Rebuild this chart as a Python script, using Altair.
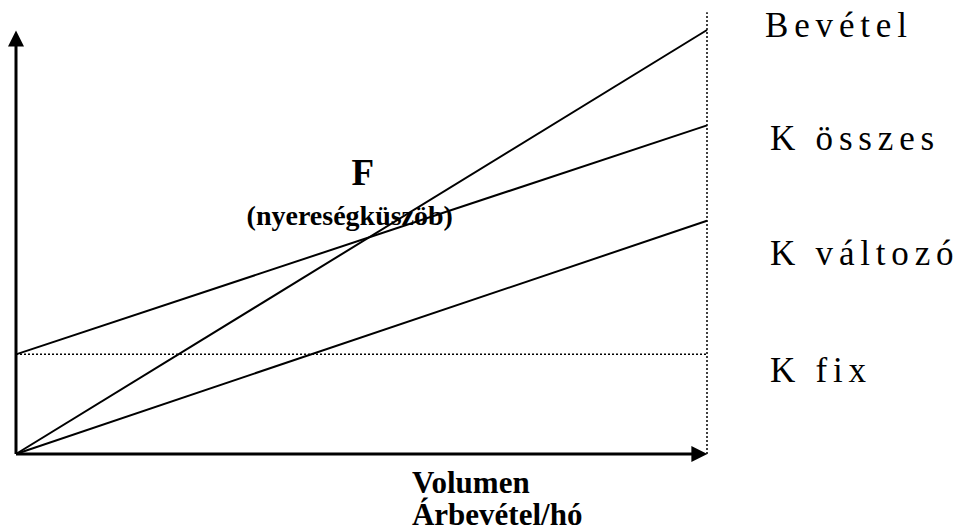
import altair as alt
import pandas as pd

# ---- data (chart units: volume 0..100, value 0..100) ----
volume = [0, 100]
bevetel = [0, 100]
k_osszes = [23.5, 77.5]
k_valtozo = [0, 55]
k_fix = [23.5, 23.5]

series = ["Bevétel", "K összes", "K változó"]
values = [bevetel, k_osszes, k_valtozo]

right_labels = ["Bevétel", "K összes", "K változó", "K fix"]
right_label_x = [108.4, 109.1, 109.1, 109.1]
right_label_y = [98.3, 71.7, 44.6, 17.0]

be_labels = ["F", "(nyereségküszöb)"]
be_label_x = [50.2, 48.3]
be_label_y = [63.4, 54.0]

axis_labels = ["Volumen", "Árbevétel/hó"]
axis_label_x = [57.3, 57.3]
axis_label_y = [-9.2, -16.7]

SP = "\u2006"


def spaced(t):
    return SP.join(list(t))


lines_df = pd.DataFrame(
    [
        {"volume": v, "value": val[i], "series": s}
        for s, val in zip(series, values)
        for i, v in enumerate(volume)
    ]
)
fix_df = pd.DataFrame({"volume": volume, "value": k_fix})

xs = alt.Scale(domain=[0, 100], range=[8, 699])
ys = alt.Scale(domain=[0, 100], range=[446, 22])
X = lambda f: alt.X(f, type="quantitative", scale=xs, axis=None)
Y = lambda f: alt.Y(f, type="quantitative", scale=ys, axis=None)

lines = alt.Chart(lines_df).mark_line(color="black", strokeWidth=2).encode(
    x=X("volume"), y=Y("value"), detail="series:N"
)

fix_line = alt.Chart(fix_df).mark_line(
    color="black", strokeWidth=1.5, strokeDash=[2, 2]
).encode(x=X("volume"), y=Y("value"))

vline_df = pd.DataFrame({"x": [100], "y": [0], "y2": [104.2]})
vline = alt.Chart(vline_df).mark_rule(
    color="black", strokeWidth=1.5, strokeDash=[2, 2]
).encode(x=X("x"), y=Y("y"), y2="y2")

yaxis_df = pd.DataFrame({"x": [0], "y": [0], "y2": [97]})
yaxis = alt.Chart(yaxis_df).mark_rule(color="black", strokeWidth=3).encode(
    x=X("x"), y=Y("y"), y2="y2"
)
xaxis_df = pd.DataFrame({"x": [0], "x2": [98], "y": [0]})
xaxis = alt.Chart(xaxis_df).mark_rule(color="black", strokeWidth=3).encode(
    x=X("x"), x2="x2", y=Y("y")
)

up_df = pd.DataFrame({"x": [0], "y": [98]})
up_arrow = alt.Chart(up_df).mark_point(
    shape="M0,-1L1,1L-1,1Z", filled=True, color="black", size=256, opacity=1, strokeWidth=0
).encode(x=X("x"), y=Y("y"))
right_df = pd.DataFrame({"x": [98.9], "y": [0]})
right_arrow = alt.Chart(right_df).mark_point(
    shape="M1,0L-1,-1L-1,1Z", filled=True, color="black", size=256, opacity=1, strokeWidth=0
).encode(x=X("x"), y=Y("y"))

rl_df = pd.DataFrame(
    {"x": right_label_x, "y": right_label_y, "t": [spaced(t) for t in right_labels]}
)
rl = alt.Chart(rl_df).mark_text(
    font="Liberation Serif", fontSize=35, align="left", baseline="alphabetic", color="black"
).encode(x=X("x"), y=Y("y"), text="t:N")

f_df = pd.DataFrame({"x": be_label_x[:1], "y": be_label_y[:1], "t": be_labels[:1]})
f_txt = alt.Chart(f_df).mark_text(
    font="Liberation Serif", fontSize=37, fontWeight="bold", align="center",
    baseline="alphabetic", color="black"
).encode(x=X("x"), y=Y("y"), text="t:N")

n_df = pd.DataFrame({"x": be_label_x[1:], "y": be_label_y[1:], "t": be_labels[1:]})
n_txt = alt.Chart(n_df).mark_text(
    font="Liberation Serif", fontSize=28, fontWeight="bold", align="center",
    baseline="alphabetic", color="black"
).encode(x=X("x"), y=Y("y"), text="t:N")

a_df = pd.DataFrame({"x": axis_label_x, "y": axis_label_y, "t": axis_labels})
a_txt = alt.Chart(a_df).mark_text(
    font="Liberation Serif", fontSize=31, fontWeight="bold", align="left",
    baseline="alphabetic", color="black"
).encode(x=X("x"), y=Y("y"), text="t:N")

chart = (
    alt.layer(fix_line, vline, lines, yaxis, xaxis, up_arrow, right_arrow, rl, f_txt, n_txt, a_txt)
    .properties(
        width=947,
        height=522,
        autosize=alt.AutoSizeParams(type="none"),
        padding=0,
        view=alt.ViewBackground(strokeWidth=0, strokeOpacity=0),
    )
    .configure_view(stroke="transparent", strokeWidth=0, strokeOpacity=0)
    .configure(background="white")
)

chart.save("out.html", embed_options={"renderer": "svg", "actions": False})
